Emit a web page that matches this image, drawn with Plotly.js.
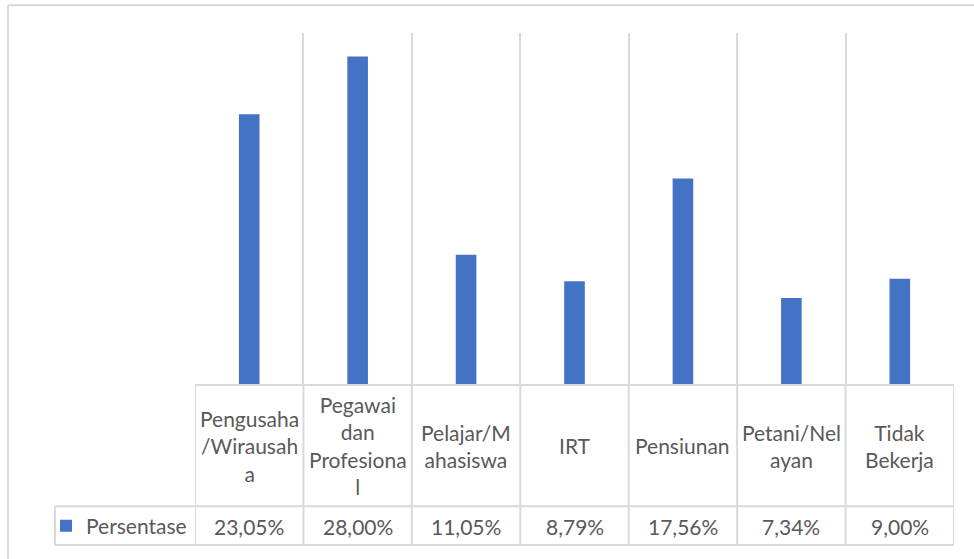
<!DOCTYPE html>
<html>
<head>
<meta charset="utf-8">
<script src="https://cdn.plot.ly/plotly-3.0.1.min.js"></script>
<style>
html,body{margin:0;padding:0;background:#fff;}
#chart{width:974px;height:559px;}
</style>
</head>
<body>
<div id="chart"></div>
<script>
// ---- data ----
const categories = ["Pengusaha/Wirausaha", "Pegawai dan Profesional", "Pelajar/Mahasiswa", "IRT", "Pensiunan", "Petani/Nelayan", "Tidak Bekerja"];
const categoryLabels = ["Pengusaha<br>/Wirausah<br>a", "Pegawai<br>dan<br>Profesiona<br>l", "Pelajar/M<br>ahasiswa", "IRT", "Pensiunan", "Petani/Nel<br>ayan", "Tidak<br>Bekerja"];
const values = [23.05, 28.00, 11.05, 8.79, 17.56, 7.34, 9.00];
const valueLabels = ["23,05%", "28,00%", "11,05%", "8,79%", "17,56%", "7,34%", "9,00%"];
const seriesName = "Persentase";

// ---- layout helpers ----
const W = 974, H = 559;
const L = 195, R = 954, T = 33, B = 386;
const xp = px => (px - L) / (R - L);
const yp = py => (B - py) / (B - T);
const grid = '#d9d9d9';
const txt = '#595959';
const font = 'Lato, "Open Sans", sans-serif';
const fs = 21;

const n = categories.length;
const shapes = [];
// outer chart border (top + left visible)
shapes.push({type:'line', xref:'paper', yref:'paper', x0:xp(8), x1:xp(W+5), y0:yp(5), y1:yp(5), line:{color:grid, width:2}});
shapes.push({type:'line', xref:'paper', yref:'paper', x0:xp(8), x1:xp(8), y0:yp(5), y1:yp(H+5), line:{color:grid, width:2}});
// data-table vertical lines at category boundaries
for (let i = 0; i <= n; i++) {
  shapes.push({type:'line', xref:'x', yref:'paper', x0:i-0.5, x1:i-0.5, y0:0, y1:yp(548), line:{color:grid, width:2}});
}
// table horizontal lines
shapes.push({type:'line', xref:'paper', yref:'paper', x0:xp(55), x1:1, y0:yp(509), y1:yp(509), line:{color:grid, width:2}});
shapes.push({type:'line', xref:'paper', yref:'paper', x0:xp(55), x1:1, y0:yp(548), y1:yp(548), line:{color:grid, width:2}});
shapes.push({type:'line', xref:'paper', yref:'paper', x0:xp(55), x1:xp(55), y0:yp(509), y1:yp(548), line:{color:grid, width:2}});

const annotations = [];
categories.forEach((c, i) => {
  annotations.push({xref:'x', yref:'paper', x:c, y:yp(448), text:categoryLabels[i], showarrow:false,
    xanchor:'center', yanchor:'middle', align:'center', font:{family:font, size:fs, color:txt}});
  annotations.push({xref:'x', yref:'paper', x:c, y:yp(529), text:valueLabels[i], showarrow:false,
    xanchor:'center', yanchor:'middle', align:'center', font:{family:font, size:fs, color:txt}});
});

const trace = {
  type:'bar', x:categories, y:values, name:seriesName,
  marker:{color:'#4472C4'}, width:0.19, showlegend:true,
  hoverinfo:'x+y'
};

const layout = {
  width:W, height:H,
  margin:{l:L, r:W-R, t:T, b:H-B, pad:0},
  paper_bgcolor:'#fff', plot_bgcolor:'#fff',
  font:{family:font, size:fs, color:txt},
  xaxis:{type:'category', range:[-0.5, n-0.5], showticklabels:false, ticks:'',
    tickson:'boundaries', showgrid:true, gridcolor:grid, gridwidth:2,
    showline:true, linecolor:grid, linewidth:2, zeroline:false, fixedrange:true},
  yaxis:{range:[0,30], showgrid:false, showticklabels:false, zeroline:false, showline:false, ticks:'', fixedrange:true},
  showlegend:true,
  legend:{x:xp(46), y:yp(529), xanchor:'left', yanchor:'middle', bgcolor:'rgba(0,0,0,0)',
    font:{family:font, size:fs, color:txt}, itemwidth:30},
  shapes:shapes,
  annotations:annotations
};

Plotly.newPlot('chart', [trace], layout, {displayModeBar:false, staticPlot:true});
</script>
</body>
</html>
